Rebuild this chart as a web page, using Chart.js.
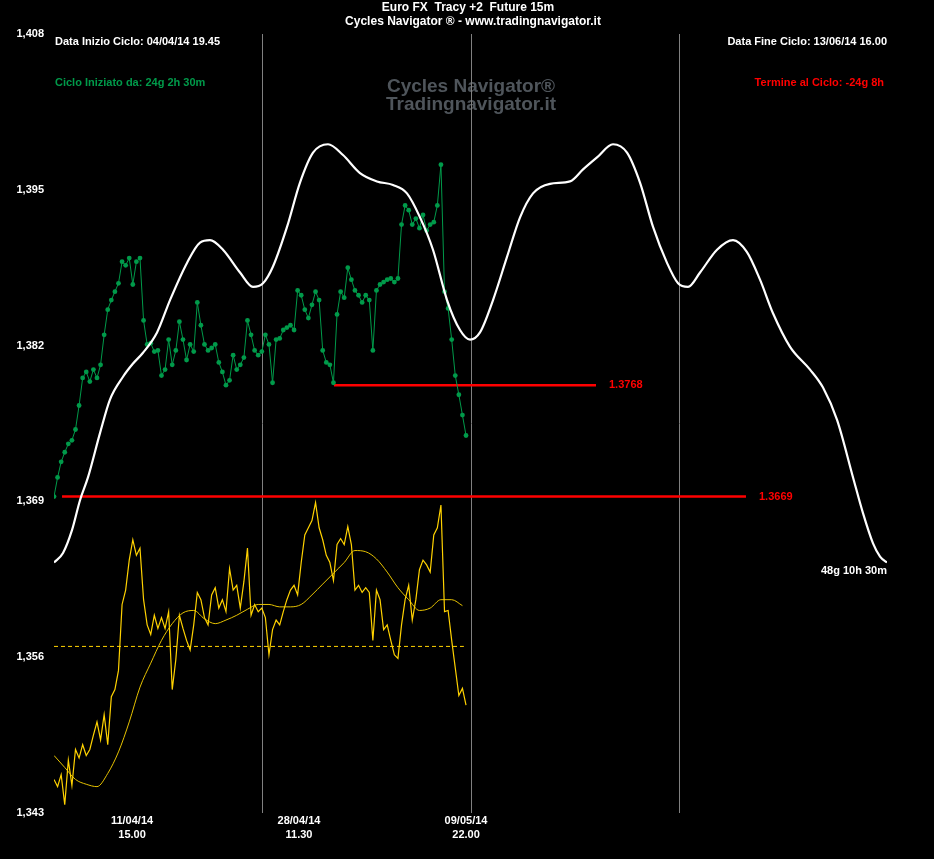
<!DOCTYPE html>
<html><head><meta charset="utf-8">
<script src="https://cdn.jsdelivr.net/npm/chart.js@4/dist/chart.umd.min.js"></script>
<style>html,body{margin:0;padding:0;background:#000;}canvas{display:block;}</style>
</head><body>
<canvas id="c" width="934" height="859"></canvas>
<script>
// ---------- DATA ----------
const cycleLengthHours = 1162.5;          // 48g 10h 30m
const priceStepHours = 5;                 // spacing of price samples
const greenPrice = [
1.3694,1.3710,1.3723,1.3731,1.3738,1.3741,1.3750,1.3770,1.3793,1.3798,
1.3790,1.3800,1.3793,1.3804,1.3829,1.3850,1.3858,1.3865,1.3872,1.3890,
1.3887,1.3893,1.3871,1.3890,1.3893,1.3841,1.3821,1.3822,1.3815,1.3816,
1.3795,1.3800,1.3825,1.3804,1.3816,1.3840,1.3825,1.3808,1.3821,1.3815,
1.3856,1.3837,1.3821,1.3816,1.3818,1.3821,1.3806,1.3798,1.3787,1.3791,
1.3812,1.3800,1.3804,1.3810,1.3841,1.3829,1.3816,1.3812,1.3815,1.3829,
1.3821,1.3789,1.3825,1.3826,1.3833,1.3835,1.3837,1.3833,1.3866,1.3862,
1.3850,1.3843,1.3854,1.3865,1.3858,1.3816,1.3806,1.3804,1.3789,1.3846,
1.3865,1.3860,1.3885,1.3875,1.3866,1.3862,1.3856,1.3862,1.3858,1.3816,
1.3866,1.3871,1.3873,1.3875,1.3876,1.3873,1.3876,1.3921,1.3937,1.3933,
1.3921,1.3926,1.3918,1.3929,1.3916,1.3921,1.3923,1.3937,1.3971,1.3865,
1.3851,1.3825,1.3795,1.3779,1.3762,1.3745];
const yellowPrice = [
1.3458,1.3452,1.3462,1.3437,1.3474,1.3453,1.3483,1.3476,1.3487,1.3478,
1.3483,1.3495,1.3506,1.3491,1.3512,1.3487,1.3527,1.3533,1.3549,1.3604,
1.3616,1.3641,1.3658,1.3645,1.3651,1.3608,1.3587,1.3579,1.3595,1.3584,
1.3593,1.3584,1.3598,1.3533,1.3558,1.3595,1.3584,1.3574,1.3566,1.3587,
1.3614,1.3608,1.3593,1.3587,1.3612,1.3618,1.3601,1.3608,1.3598,1.3634,
1.3616,1.3620,1.3601,1.3623,1.3651,1.3595,1.3604,1.3598,1.3601,1.3593,
1.3562,1.3583,1.3591,1.3587,1.3598,1.3608,1.3616,1.3620,1.3612,1.3639,
1.3662,1.3668,1.3674,1.3689,1.3668,1.3658,1.3645,1.3639,1.3624,1.3654,
1.3659,1.3654,1.3669,1.3654,1.3616,1.3620,1.3614,1.3618,1.3614,1.3574,
1.3616,1.3608,1.3583,1.3587,1.3574,1.3562,1.3559,1.3587,1.3608,1.3620,
1.3591,1.3608,1.3633,1.3641,1.3637,1.3631,1.3662,1.3668,1.3687,1.3598,
1.3599,1.3574,1.3551,1.3528,1.3534,1.3520];
const averageStepHours = 15;
const yellowAverage = [
1.3478,1.3468,1.3458,1.3454,1.3452,1.3463,1.3481,1.3506,1.3535,1.3555,
1.3574,1.3588,1.3597,1.3599,1.3592,1.3588,1.3591,1.3595,1.3600,1.3604,
1.3604,1.3602,1.3602,1.3604,1.3612,1.3621,1.3630,1.3639,1.3649,1.3648,
1.3642,1.3631,1.3618,1.3608,1.3599,1.3601,1.3608,1.3608,1.3603];
const yellowLevel = 1.3569;
const yellowLevelEndHours = 572;
const cycleHours = [0,12.6,25.1,36.3,47.4,64.2,78.1,96.3,110.3,124.2,143.8,161.9,185.6,203.8,217.7,
235.8,259.6,277.7,291.7,305.6,325.2,343.3,361.5,382.4,403.3,427.0,450.8,473.1,492.6,510.8,528.9,
548.5,566.6,580.6,594.5,612.7,632.2,650.4,668.5,692.2,720.1,738.3,757.8,780.1,799.7,817.8,836.0,
855.5,870.9,884.8,901.6,925.3,947.6,967.1,985.3,1003.4,1027.2,1055.1,1073.2,1092.8,1115.1,1129.1,
1143.0,1152.8,1162.5];
const cycleValues = [1.3639,1.3647,1.3666,1.3691,1.3710,1.3747,1.3775,1.3794,1.3805,1.3814,1.3831,
1.3858,1.3889,1.3906,1.3908,1.3900,1.3881,1.3869,1.3872,1.3886,1.3919,1.3956,1.3981,1.3988,1.3979,
1.3964,1.3957,1.3954,1.3947,1.3927,1.3900,1.3858,1.3833,1.3825,1.3831,1.3858,1.3894,1.3927,1.3947,
1.3955,1.3957,1.3967,1.3977,1.3988,1.3981,1.3956,1.3919,1.3889,1.3872,1.3869,1.3881,1.3900,1.3908,
1.3898,1.3875,1.3847,1.3819,1.3800,1.3785,1.3758,1.3710,1.3680,1.3655,1.3644,1.3639];
const levelValues = [1.3787, 1.3694];
const levelLabels = ['1.3768', '1.3669'];
const levelStartHours = [390.8, 11.2];
const levelEndHours = [756.4, 965.7];
const quarterHours = [290.6, 581.25, 871.9];
const yTickValues = [1.343, 1.356, 1.369, 1.382, 1.395, 1.408];
const yTickLabels = ['1,343', '1,356', '1,369', '1,382', '1,395', '1,408'];
const xTickHours = [108.9, 341.9, 575];
const xTickLabels = [['11/04/14', '15.00'], ['28/04/14', '11.30'], ['09/05/14', '22.00']];
const titleLines = ['Euro FX  Tracy +2  Future 15m', 'Cycles Navigator \u00AE - www.tradingnavigator.it'];
const watermarkLines = ['Cycles Navigator\u00AE', 'Tradingnavigator.it'];
const infoStart = 'Data Inizio Ciclo: 04/04/14 19.45';
const infoEnd = 'Data Fine Ciclo: 13/06/14 16.00';
const infoElapsed = 'Ciclo Iniziato da: 24g 2h 30m';
const infoRemaining = 'Termine al Ciclo: -24g 8h';
const cycleLengthLabel = '48g 10h 30m';

// ---------- STYLE ----------
const FAM = '"Liberation Sans", Arial, Helvetica, sans-serif';
const GREEN = '#009a4a';
const YELLOW = '#ffd200';
const RED = '#ff0000';

const toXY = (arr, step) => arr.map((v, i) => ({x: i * step, y: v}));

const datasets = [
  {label: 'cycle', data: cycleHours.map((h, i) => ({x: h, y: cycleValues[i]})),
   borderColor: '#ffffff', borderWidth: 2.2, pointRadius: 0, cubicInterpolationMode: 'monotone', order: 0},
  {label: 'price', data: toXY(greenPrice, priceStepHours),
   borderColor: GREEN, borderWidth: 1, pointRadius: 2.4, pointBackgroundColor: GREEN,
   pointBorderWidth: 0, tension: 0, order: 1},
];
levelValues.forEach((v, i) => datasets.push({
  label: 'level' + i, data: [{x: levelStartHours[i], y: v}, {x: levelEndHours[i], y: v}],
  borderColor: RED, borderWidth: 2.5, pointRadius: 0, order: 2}));
datasets.push(
  {label: 'yellow', data: toXY(yellowPrice, priceStepHours),
   borderColor: YELLOW, borderWidth: 1.2, pointRadius: 0, tension: 0, order: 3},
  {label: 'avg', data: toXY(yellowAverage, averageStepHours),
   borderColor: '#e6c200', borderWidth: 1, pointRadius: 0, cubicInterpolationMode: 'monotone', order: 4},
  {label: 'yLevel', data: [{x: 0, y: yellowLevel}, {x: yellowLevelEndHours, y: yellowLevel}],
   borderColor: YELLOW, borderWidth: 1, borderDash: [4, 3], pointRadius: 0, order: 5}
);

const overlay = {
  id: 'overlay',
  beforeDatasetsDraw(chart) {
    const {ctx, chartArea: a, scales: {x}} = chart;
    ctx.save();
    ctx.fillStyle = '#4f555b';
    ctx.font = 'bold 19px ' + FAM;
    ctx.textAlign = 'center'; ctx.textBaseline = 'middle';
    ctx.fillText(watermarkLines[0], 471, 87);
    ctx.fillText(watermarkLines[1], 471, 105);
    ctx.strokeStyle = '#808080'; ctx.lineWidth = 1;
    quarterHours.forEach(h => {
      const px = Math.round(x.getPixelForValue(h)) + 0.5;
      ctx.beginPath(); ctx.moveTo(px, a.top); ctx.lineTo(px, a.bottom); ctx.stroke();
    });
    ctx.restore();
  },
  afterDraw(chart) {
    const {ctx, chartArea: a, scales: {x, y}} = chart;
    ctx.save();
    ctx.textBaseline = 'middle';
    ctx.fillStyle = '#ffffff';
    ctx.font = 'bold 12px ' + FAM;
    ctx.textAlign = 'center';
    ctx.fillText(titleLines[0], 468, 8);
    ctx.fillText(titleLines[1], 473, 22);
    ctx.font = 'bold 11px ' + FAM;
    ctx.textAlign = 'left';
    ctx.fillText(infoStart, a.left + 1, a.top + 8);
    ctx.fillStyle = GREEN;
    ctx.fillText(infoElapsed, a.left + 1, a.top + 49);
    ctx.textAlign = 'right';
    ctx.fillStyle = '#ffffff';
    ctx.fillText(infoEnd, a.right, a.top + 8);
    ctx.fillStyle = RED;
    ctx.fillText(infoRemaining, a.right - 3, a.top + 49);
    ctx.fillStyle = '#ffffff';
    ctx.fillText(cycleLengthLabel, x.getPixelForValue(cycleHours[cycleHours.length - 1]),
                 y.getPixelForValue(cycleValues[cycleValues.length - 1]) + 8);
    ctx.textAlign = 'left';
    ctx.fillStyle = RED;
    levelValues.forEach((v, i) => {
      ctx.fillText(levelLabels[i], x.getPixelForValue(levelEndHours[i]) + 13, y.getPixelForValue(v));
    });
    ctx.restore();
  }
};

new Chart(document.getElementById('c'), {
  type: 'line',
  data: {datasets},
  plugins: [overlay],
  options: {
    responsive: false, animation: false, devicePixelRatio: 1, events: [],
    parsing: true,
    layout: {padding: {left: 0, right: 47, top: 34, bottom: 0}},
    plugins: {legend: {display: false}, title: {display: false}, tooltip: {enabled: false}},
    scales: {
      x: {
        type: 'linear', min: 0, max: cycleLengthHours,
        grid: {display: false, drawTicks: false}, border: {display: false},
        afterBuildTicks: s => { s.ticks = xTickHours.map(v => ({value: v})); },
        afterFit: s => { s.height = 46; },
        ticks: {
          autoSkip: false, maxRotation: 0, minRotation: 0, padding: 1,
          color: '#ffffff', font: {family: FAM, size: 11, weight: 'bold', lineHeight: 1.27},
          callback: (v, i) => xTickLabels[i]
        }
      },
      y: {
        type: 'linear', min: yTickValues[0], max: yTickValues[yTickValues.length - 1],
        grid: {display: false, drawTicks: false}, border: {display: false},
        afterBuildTicks: s => { s.ticks = yTickValues.map(v => ({value: v})); },
        afterFit: s => { s.width = 54; },
        ticks: {
          padding: 10, color: '#ffffff', font: {family: FAM, size: 11, weight: 'bold'},
          callback: (v, i) => yTickLabels[i]
        }
      }
    }
  }
});
</script>
</body></html>
